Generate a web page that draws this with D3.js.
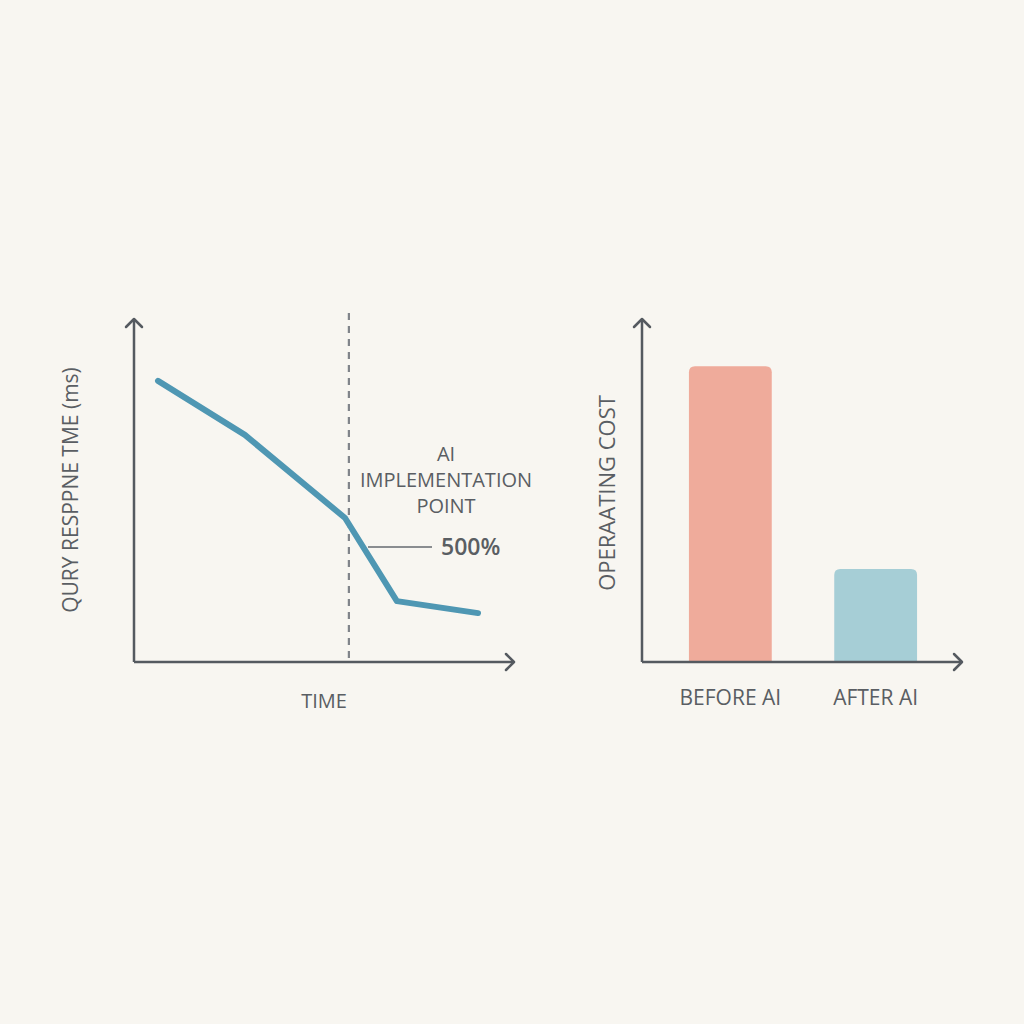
<!DOCTYPE html>
<html>
<head>
<meta charset="utf-8">
<script src="https://cdn.jsdelivr.net/npm/d3@7"></script>
<style>
  html, body { margin: 0; padding: 0; background: #f8f6f1; }
  svg { display: block; }
  text { font-family: "Open Sans", "Noto Sans", sans-serif; fill: #5a5e63; }
</style>
</head>
<body>
<svg id="chart"></svg>
<script>
// line chart data (time in arbitrary units, response in arbitrary units)
var timePoints = [6.3, 29.1, 55.4, 69, 90.3];
var responseTimes = [82.2, 66.4, 42.1, 17.8, 14.3];
var implementationTime = 56.4;

// bar chart data
var costCategories = ["BEFORE AI", "AFTER AI"];
var costValues = [86.5, 27.2];
var costColors = ["#efab9b", "#a6ced6"];

var axisColor = "#555a60";

var svg = d3.select("#chart")
    .attr("width", 1024)
    .attr("height", 1024);

svg.append("rect").attr("width", 1024).attr("height", 1024).attr("fill", "#f8f6f1");

// arrow helper
function arrowHead(x, y, dir) {
  var s = 8;
  var d = dir === "up"
    ? "M" + (x - s) + "," + (y + s) + "L" + x + "," + y + "L" + (x + s) + "," + (y + s)
    : "M" + (x - s) + "," + (y - s) + "L" + x + "," + y + "L" + (x - s) + "," + (y + s);
  svg.append("path").attr("d", d)
    .attr("fill", "none").attr("stroke", axisColor)
    .attr("stroke-width", 2.5).attr("stroke-linecap", "round").attr("stroke-linejoin", "round");
}

// ---- left: line chart ----
var x = d3.scaleLinear().domain([0, 100]).range([134, 515]);
var y = d3.scaleLinear().domain([0, 100]).range([662, 320]);

// dashed implementation marker
svg.append("line")
  .attr("x1", x(implementationTime)).attr("x2", x(implementationTime))
  .attr("y1", 313).attr("y2", y(0))
  .attr("stroke", "#80848a").attr("stroke-width", 2.2)
  .attr("stroke-dasharray", "7,6");

// axes
svg.append("line").attr("x1", x(0)).attr("x2", x(0)).attr("y1", y(0)).attr("y2", 319)
  .attr("stroke", axisColor).attr("stroke-width", 2.5);
svg.append("line").attr("x1", x(0)).attr("x2", 514).attr("y1", y(0)).attr("y2", y(0))
  .attr("stroke", axisColor).attr("stroke-width", 2.5);
arrowHead(x(0), 319, "up");
arrowHead(514, y(0), "right");

var lineData = timePoints.map(function(t, i) { return {t: t, v: responseTimes[i]}; });
var valueline = d3.line()
  .x(function(d) { return x(d.t); })
  .y(function(d) { return y(d.v); });

svg.append("path")
  .datum(lineData)
  .attr("d", valueline)
  .attr("fill", "none")
  .attr("stroke", "#4f97b3")
  .attr("stroke-width", 6)
  .attr("stroke-linecap", "round")
  .attr("stroke-linejoin", "round");

// annotation
var ann = svg.append("text").attr("text-anchor", "middle").attr("font-size", 20);
ann.append("tspan").attr("x", 446).attr("y", 461).text("AI");
ann.append("tspan").attr("x", 446).attr("y", 487).text("IMPLEMENTATION");
ann.append("tspan").attr("x", 446).attr("y", 513).text("POINT");

svg.append("line").attr("x1", 368).attr("x2", 432).attr("y1", 547).attr("y2", 547)
  .attr("stroke", "#8a8d90").attr("stroke-width", 2);
svg.append("text").attr("x", 441).attr("y", 555)
  .attr("font-size", 23).attr("font-weight", 600).text("500%");

svg.append("text").attr("x", 324).attr("y", 708)
  .attr("text-anchor", "middle").attr("font-size", 20).text("TIME");

svg.append("text")
  .attr("transform", "translate(78,490) rotate(-90)")
  .attr("text-anchor", "middle").attr("font-size", 21)
  .text("QURY RESPPNE TME (ms)");

// ---- right: bar chart ----
var xb = d3.scaleBand().domain(costCategories).range([642, 964])
  .paddingInner(0.43).paddingOuter(0.323);
var yb = d3.scaleLinear().domain([0, 100]).range([662, 320]);

function topRoundedBar(x0, y0, w, h, r) {
  return "M" + x0 + "," + (y0 + h) +
    "V" + (y0 + r) +
    "Q" + x0 + "," + y0 + " " + (x0 + r) + "," + y0 +
    "H" + (x0 + w - r) +
    "Q" + (x0 + w) + "," + y0 + " " + (x0 + w) + "," + (y0 + r) +
    "V" + (y0 + h) + "Z";
}

svg.selectAll(".bar")
  .data(costValues)
  .enter().append("path")
  .attr("class", "bar")
  .attr("d", function(d, i) {
    return topRoundedBar(xb(costCategories[i]), yb(d), xb.bandwidth(), yb(0) - yb(d), 6);
  })
  .attr("fill", function(d, i) { return costColors[i]; });

svg.append("line").attr("x1", 642).attr("x2", 642).attr("y1", yb(0)).attr("y2", 319)
  .attr("stroke", axisColor).attr("stroke-width", 2.5);
svg.append("line").attr("x1", 642).attr("x2", 962).attr("y1", yb(0)).attr("y2", yb(0))
  .attr("stroke", axisColor).attr("stroke-width", 2.5);
arrowHead(642, 319, "up");
arrowHead(962, yb(0), "right");

svg.selectAll(".cat")
  .data(costCategories)
  .enter().append("text")
  .attr("class", "cat")
  .attr("x", function(d) { return xb(d) + xb.bandwidth() / 2; })
  .attr("y", 705)
  .attr("text-anchor", "middle").attr("font-size", 21)
  .text(function(d) { return d; });

svg.append("text")
  .attr("transform", "translate(615,493) rotate(-90)")
  .attr("text-anchor", "middle").attr("font-size", 22)
  .text("OPERAATING COST");
</script>
</body>
</html>
